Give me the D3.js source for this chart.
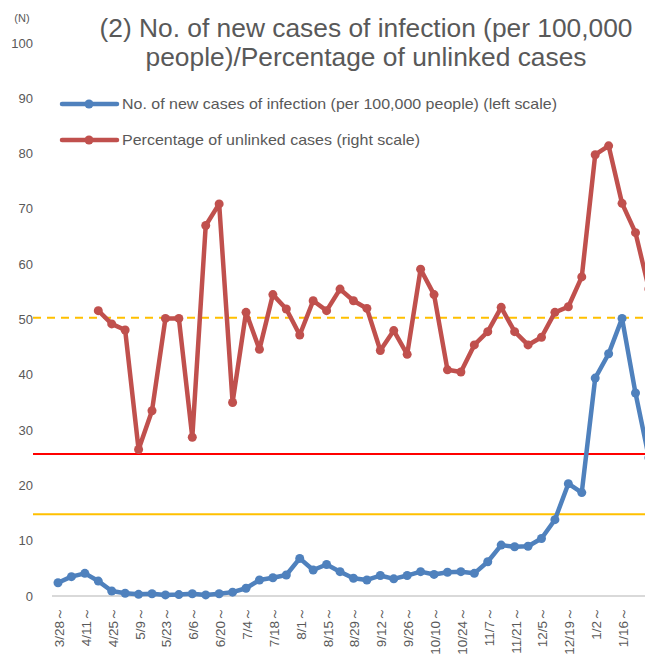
<!DOCTYPE html>
<html><head><meta charset="utf-8">
<script src="https://cdn.jsdelivr.net/npm/d3@7"></script>
<style>
html,body{margin:0;padding:0;background:#fff;overflow:hidden}
svg{display:block;font-family:"Liberation Sans",Arial,sans-serif}
</style></head><body>
<script>
const categories = ["3/28","4/4","4/11","4/18","4/25","5/2","5/9","5/16","5/23","5/30","6/6","6/13","6/20","6/27","7/4","7/11","7/18","7/25","8/1","8/8","8/15","8/22","8/29","9/5","9/12","9/19","9/26","10/3","10/10","10/17","10/24","10/31","11/7","11/14","11/21","11/28","12/5","12/12","12/19","12/26","1/2","1/9","1/16","1/23","1/30"];
const newCases = [2.4,3.5,4.1,2.7,0.9,0.5,0.3,0.4,0.2,0.25,0.4,0.2,0.4,0.7,1.4,2.9,3.3,3.8,6.8,4.7,5.7,4.4,3.2,2.9,3.7,3.1,3.7,4.4,3.9,4.3,4.4,4.1,6.2,9.2,8.9,9.0,10.4,13.8,20.3,18.7,39.4,43.8,50.2,36.7,25];
const unlinked = [null,null,null,51.6,49.2,48.1,26.5,33.5,50.2,50.2,28.7,67.0,70.9,35.0,51.3,44.6,54.5,51.9,47.2,53.4,51.6,55.5,53.4,52.0,44.4,48.0,43.7,59.1,54.5,40.9,40.5,45.4,47.8,52.2,47.8,45.4,46.8,51.3,52.3,57.7,79.8,81.4,71.0,65.7,55.5];
const yTicks = [0,10,20,30,40,50,60,70,80,90,100];
const refLines = [
  {value:50.3, color:"#FFC000", dash:"8,6"},
  {value:25.7, color:"#FF0000", dash:null},
  {value:14.8, color:"#FFC000", dash:null}
];
const seriesNames = ["No. of new cases of infection (per 100,000 people) (left scale)","Percentage of unlinked cases (right scale)"];
const titleLines = ["(2) No. of new cases of infection (per 100,000","people)/Percentage of unlinked cases"];

const W=645,H=663;
const svg=d3.select("body").append("svg").attr("width",W).attr("height",H);
const x=d3.scalePoint().domain(categories).range([58,58+44*13.43]);
const y=d3.scaleLinear().domain([0,100]).range([596,43]);

// y tick labels
svg.append("g").selectAll("text").data(yTicks).join("text")
  .attr("x",33).attr("y",d=>y(d)).attr("dy","0.35em").attr("text-anchor","end")
  .attr("font-size",13).attr("fill","#595959").text(d=>d);
svg.append("text").attr("x",22).attr("y",22).attr("text-anchor","middle")
  .attr("font-size",11).attr("fill","#595959").text("(N)");

// baseline
svg.append("line").attr("x1",52).attr("x2",W).attr("y1",y(0)).attr("y2",y(0))
  .attr("stroke","#D9D9D9").attr("stroke-width",2);

// x labels
svg.append("g").selectAll("text").data(categories.filter((d,i)=>i%2===0)).join("text")
  .attr("transform",d=>`translate(${x(d)+6},607) rotate(-90)`)
  .attr("text-anchor","end").attr("font-size",13.5).attr("fill","#595959")
  .text(d=>d+"～");

// ref lines
svg.append("g").selectAll("line").data(refLines).join("line")
  .attr("x1",33).attr("x2",W).attr("y1",d=>y(d.value)).attr("y2",d=>y(d.value))
  .attr("stroke",d=>d.color).attr("stroke-width",2).attr("stroke-dasharray",d=>d.dash);

function drawSeries(vals,color){
  const line=d3.line().defined(d=>d!=null).x((d,i)=>x(categories[i])).y(d=>y(d));
  svg.append("path").datum(vals).attr("d",line).attr("fill","none")
    .attr("stroke",color).attr("stroke-width",4.5).attr("stroke-linejoin","round");
  svg.append("g").selectAll("circle").data(vals.map((v,i)=>({v,i})).filter(d=>d.v!=null)).join("circle")
    .attr("cx",d=>x(categories[d.i])).attr("cy",d=>y(d.v)).attr("r",4.5).attr("fill",color);
}
drawSeries(unlinked,"#C0504D");
drawSeries(newCases,"#4F81BD");

// title
const titleWidths=[533,441];
svg.append("g").selectAll("text").data(titleLines).join("text")
  .attr("x",366).attr("y",(d,i)=>37+i*29).attr("text-anchor","middle")
  .attr("font-size",25).attr("fill","#595959")
  .attr("textLength",(d,i)=>titleWidths[i]).attr("lengthAdjust","spacingAndGlyphs").text(d=>d);

// legend
const colors=["#4F81BD","#C0504D"];
const legendWidths=[435,298];
const lg=svg.append("g").selectAll("g").data(seriesNames).join("g")
  .attr("transform",(d,i)=>`translate(0,${104+i*36})`);
lg.append("line").attr("x1",62).attr("x2",117).attr("stroke",(d,i)=>colors[i]).attr("stroke-width",4.5).attr("stroke-linecap","round");
lg.append("circle").attr("cx",89).attr("r",4.5).attr("fill",(d,i)=>colors[i]);
lg.append("text").attr("x",122).attr("dy","0.35em").attr("font-size",14.5).attr("fill","#595959")
  .attr("textLength",(d,i)=>legendWidths[i]).attr("lengthAdjust","spacingAndGlyphs").text(d=>d);
</script>
</body></html>
